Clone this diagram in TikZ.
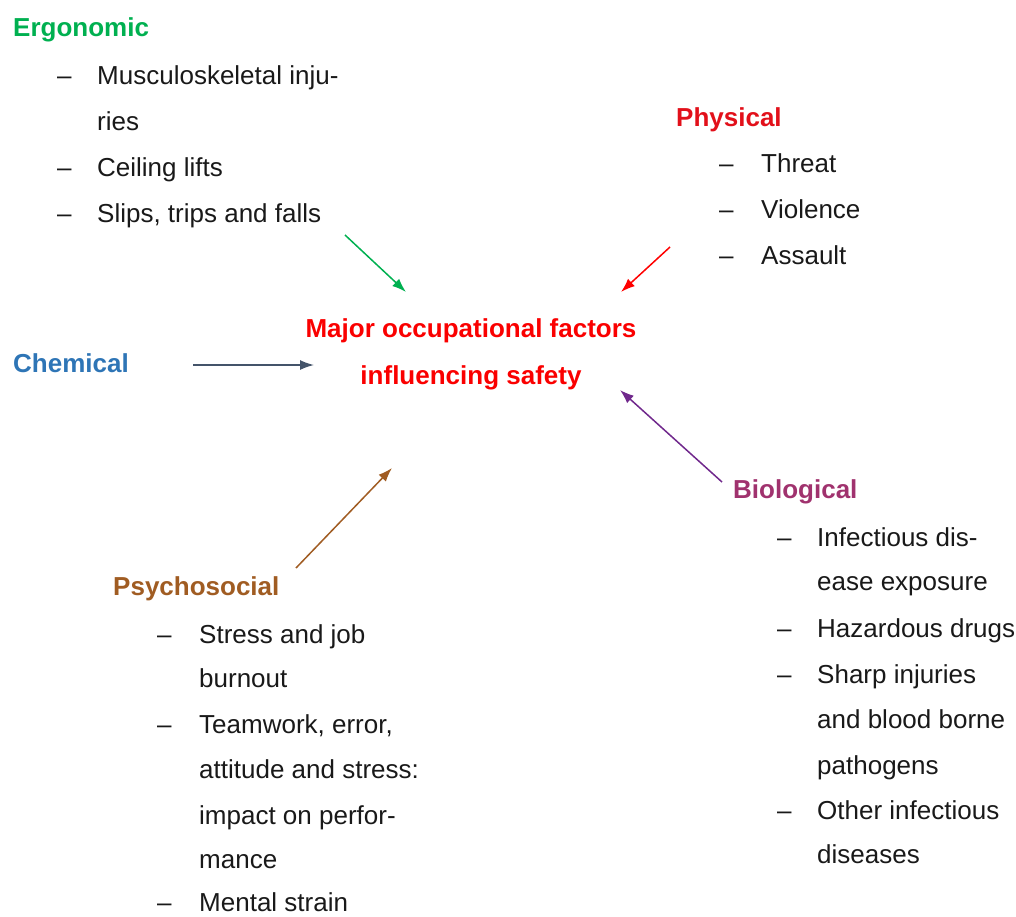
\documentclass[tikz,border=0pt]{standalone}
\usepackage{fontspec}
\setmainfont{Liberation Sans}
\usetikzlibrary{arrows.meta}
\definecolor{ergoc}{RGB}{0,176,80}
\definecolor{physc}{RGB}{226,16,26}
\definecolor{titlec}{RGB}{250,0,0}
\definecolor{chemc}{RGB}{46,117,182}
\definecolor{chemarr}{RGB}{68,84,106}
\definecolor{psyc}{RGB}{160,92,34}
\definecolor{bioc}{RGB}{160,50,110}
\definecolor{bioarr}{RGB}{112,40,140}
\definecolor{txtc}{RGB}{25,25,25}
\begin{document}
\begin{tikzpicture}[x=1pt,y=-1pt,
  txt/.style={anchor=base west,inner sep=0pt,text=txtc,font=\fontsize{26}{46}\selectfont},
  head/.style={anchor=base west,inner sep=0pt,font=\fontsize{26}{46}\selectfont\bfseries},
  ttl/.style={anchor=base,inner sep=0pt,text=titlec,font=\fontsize{26}{46}\selectfont\bfseries},
  arr/.style={line width=1.5pt,-{Latex[length=14pt,width=10pt]}}]
\useasboundingbox (0,0) rectangle (1016,916);

% central title
\node[ttl] (t1) at (471,337) {Major occupational factors};
\node[ttl] (t2) at (471,384) {influencing safety};

% Ergonomic
\node[head,text=ergoc] (ergo) at (13,36) {Ergonomic};
\node[txt] (ed1) at (57,84) {–};
\node[txt] (e1) at (97,84) {Musculoskeletal inju-};
\node[txt] (e1b) at (97,130) {ries};
\node[txt] (ed2) at (57,176) {–};
\node[txt] (e2) at (97,176) {Ceiling lifts};
\node[txt] (ed3) at (57,222) {–};
\node[txt] (e3) at (97,222) {Slips, trips and falls};

% Physical
\node[head,text=physc] (phys) at (676,126) {Physical};
\node[txt] (pd1) at (719,172) {–};
\node[txt] (p1) at (761,172) {Threat};
\node[txt] (pd2) at (719,218) {–};
\node[txt] (p2) at (761,218) {Violence};
\node[txt] (pd3) at (719,264) {–};
\node[txt] (p3) at (761,264) {Assault};

% Chemical
\node[head,text=chemc] (chem) at (13,372) {Chemical};

% Biological
\node[head,text=bioc] (bio) at (733,498) {Biological};
\node[txt] (bd1) at (777,546) {–};
\node[txt] (b1) at (817,546) {Infectious dis-};
\node[txt] (b1b) at (817,590) {ease exposure};
\node[txt] (bd2) at (777,637) {–};
\node[txt] (b2) at (817,637) {Hazardous drugs};
\node[txt] (bd3) at (777,683) {–};
\node[txt] (b3) at (817,683) {Sharp injuries};
\node[txt] (b3b) at (817,728) {and blood borne};
\node[txt] (b3c) at (817,774) {pathogens};
\node[txt] (bd4) at (777,819) {–};
\node[txt] (b4) at (817,819) {Other infectious};
\node[txt] (b4b) at (817,863) {diseases};

% Psychosocial
\node[head,text=psyc] (psy) at (113,595) {Psychosocial};
\node[txt] (sd1) at (157,643) {–};
\node[txt] (s1) at (199,643) {Stress and job};
\node[txt] (s1b) at (199,687) {burnout};
\node[txt] (sd2) at (157,733) {–};
\node[txt] (s2) at (199,733) {Teamwork, error,};
\node[txt] (s2b) at (199,778) {attitude and stress:};
\node[txt] (s2c) at (199,824) {impact on perfor-};
\node[txt] (s2d) at (199,868) {mance};
\node[txt] (sd3) at (157,911) {–};
\node[txt] (s3) at (199,911) {Mental strain};

% arrow end points
\coordinate (ergoS) at (345,235);
\coordinate (ergoE) at (406,292);
\coordinate (physS) at (670,247);
\coordinate (physE) at (621,292);
\coordinate (chemS) at (193,365);
\coordinate (chemE) at (314,365);
\coordinate (psyS) at (296,568);
\coordinate (psyE) at (392,468);
\coordinate (bioS) at (722,482);
\coordinate (bioE) at (620,390);

\draw[arr,ergoc] (ergoS) -- (ergoE);
\draw[arr,red] (physS) -- (physE);
\draw[arr,chemarr] (chemS) -- (chemE);
\draw[arr,psyc] (psyS) -- (psyE);
\draw[arr,bioarr] (bioS) -- (bioE);
\end{tikzpicture}
\end{document}
